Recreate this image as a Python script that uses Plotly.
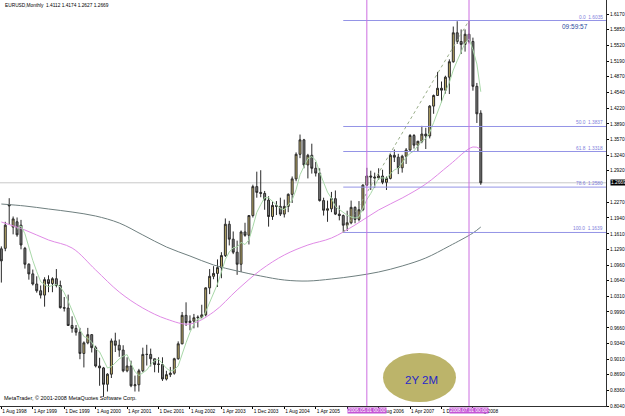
import plotly.graph_objects as go

# ---------------- data (month index 0 = Aug 1998) ----------------
opens = [1.130,1.131,1.222,1.175,1.186,1.179,1.131,1.098,1.078,1.057,1.043,1.034,
         1.066,1.058,1.068,1.054,1.008,1.007,0.971,0.965,0.957,0.913,0.935,0.952,
         0.925,0.887,0.883,0.849,0.870,0.939,0.930,0.920,0.877,0.887,0.846,0.848,
         0.877,0.911,0.911,0.902,0.890,0.890,0.860,0.869,0.872,0.902,0.933,0.992,
         0.977,0.980,0.987,0.988,0.993,1.049,1.073,1.079,1.091,1.116,1.181,1.150,
         1.123,1.098,1.165,1.158,1.199,1.259,1.247,1.245,1.231,1.197,1.220,1.218,
         1.202,1.218,1.243,1.275,1.326,1.356,1.304,1.324,1.297,1.287,1.230,1.210,
         1.213,1.234,1.202,1.199,1.179,1.184,1.216,1.191,1.211,1.262,1.281,1.279,
         1.277,1.281,1.268,1.276,1.324,1.320,1.298,1.322,1.335,1.365,1.345,1.353,
         1.368,1.364,1.426,1.448,1.463,1.459,1.486,1.518,1.578,1.560,1.554,1.575,
         1.560,1.467,1.4112]
highs = [1.135,1.186,1.235,1.197,1.195,1.190,1.134,1.100,1.087,1.073,1.054,1.071,
         1.075,1.071,1.088,1.064,1.030,1.035,0.990,0.972,0.966,0.938,0.966,0.953,
         0.929,0.904,0.885,0.872,0.944,0.956,0.942,0.930,0.905,0.898,0.867,0.881,
         0.925,0.931,0.923,0.902,0.905,0.905,0.877,0.885,0.904,0.938,0.999,1.019,
         0.992,0.995,0.992,1.014,1.050,1.088,1.094,1.108,1.123,1.193,1.188,1.166,
         1.147,1.168,1.184,1.200,1.263,1.290,1.293,1.250,1.239,1.229,1.229,1.236,
         1.232,1.245,1.280,1.330,1.367,1.358,1.327,1.348,1.310,1.297,1.236,1.230,
         1.248,1.251,1.220,1.201,1.209,1.230,1.218,1.229,1.264,1.298,1.292,1.288,
         1.297,1.294,1.280,1.327,1.336,1.327,1.325,1.339,1.368,1.368,1.354,1.385,
         1.381,1.428,1.450,1.497,1.477,1.489,1.523,1.591,1.602,1.585,1.585,1.6035,
         1.568,1.474,1.4174]
lows = [1.060,1.125,1.180,1.160,1.155,1.129,1.089,1.066,1.054,1.039,1.027,1.010,
        1.040,1.040,1.050,1.006,1.000,0.970,0.956,0.950,0.901,0.884,0.932,0.915,
        0.884,0.846,0.823,0.834,0.862,0.916,0.906,0.874,0.874,0.843,0.834,0.834,
        0.874,0.888,0.886,0.874,0.873,0.856,0.857,0.864,0.869,0.900,0.932,0.970,
        0.961,0.965,0.967,0.988,0.990,1.036,1.067,1.051,1.069,1.113,1.137,1.119,
        1.076,1.082,1.155,1.139,1.195,1.236,1.237,1.211,1.176,1.190,1.200,1.198,
        1.195,1.206,1.225,1.270,1.318,1.297,1.276,1.286,1.280,1.228,1.199,1.186,
        1.206,1.200,1.189,1.1639,1.167,1.181,1.183,1.187,1.208,1.260,1.252,1.256,
        1.273,1.264,1.252,1.274,1.310,1.285,1.288,1.306,1.333,1.338,1.331,1.349,
        1.337,1.359,1.410,1.447,1.434,1.452,1.451,1.516,1.555,1.534,1.539,1.556,
        1.458,1.391,1.2627]
closes = [1.105,1.179,1.219,1.192,1.159,1.138,1.098,1.078,1.057,1.043,1.034,1.066,
          1.058,1.068,1.054,1.008,1.007,0.971,0.965,0.957,0.913,0.935,0.952,0.925,
          0.887,0.883,0.849,0.870,0.939,0.930,0.920,0.877,0.887,0.846,0.848,0.877,
          0.911,0.911,0.902,0.890,0.891,0.860,0.869,0.872,0.902,0.933,0.992,0.977,
          0.980,0.987,0.988,0.993,1.049,1.073,1.079,1.091,1.116,1.181,1.150,1.123,
          1.098,1.165,1.158,1.199,1.259,1.247,1.245,1.231,1.197,1.220,1.218,1.202,
          1.218,1.243,1.275,1.326,1.356,1.304,1.324,1.297,1.287,1.230,1.210,1.213,
          1.234,1.202,1.199,1.179,1.184,1.216,1.191,1.211,1.262,1.281,1.279,1.277,
          1.281,1.268,1.276,1.324,1.320,1.298,1.322,1.335,1.365,1.345,1.353,1.368,
          1.364,1.426,1.448,1.463,1.459,1.486,1.518,1.578,1.560,1.554,1.575,1.560,
          1.467,1.410,1.2669]
months = list(range(len(closes)))

ma_x = [0,6,12,18,24,30,36,42,48,54,60,66,72,78,84,90,96,102,108,114,120,122]
ma_pink = [1.1856,1.1690,1.1483,1.1317,1.0861,1.0404,1.0072,0.9844,0.9741,0.9990,1.0446,
           1.0861,1.1172,1.1379,1.1524,1.1794,1.2105,1.2354,1.2644,1.3038,1.3412,1.3370]
ma_grey = [1.2229,1.2188,1.2126,1.2063,1.1980,1.1835,1.1587,1.1338,1.1151,1.0965,1.0840,
           1.0736,1.0653,1.0632,1.0674,1.0736,1.0819,1.0944,1.1110,1.1358,1.1628,1.1752]

fib_levels = [0.0, 50.0, 61.8, 78.6, 100.0]
fib_prices = [1.6035, 1.3837, 1.3318, 1.2580, 1.1639]
fib_start, fib_end = 87, 119          # Nov 2005 low -> Jul 2008 high
vlines = [93, 119]
vline_labels = ["2006.05.01 00:00", "2008.07.01 00:00"]

tick_months = list(range(0, 121, 8))
# "1 Dec 2005" sits completely under the date box in the reference, so it is left blank
tick_text = ["1 Aug 1998","1 Apr 1999","1 Dec 1999","1 Aug 2000","1 Apr 2001","1 Dec 2001",
             "1 Aug 2002","1 Apr 2003","1 Dec 2003","1 Aug 2004","1 Apr 2005","",
             "1 Aug 2006","1 Apr 2007","1 Dec 2007","1 Aug 2008"]
price_ticks = [1.6170,1.5850,1.5520,1.5190,1.4870,1.4540,1.4220,1.3890,1.3570,1.3240,
               1.2920,1.2270,1.1940,1.1610,1.1290,1.0960,1.0640,1.0310,0.9990,
               0.9660,0.9340,0.9010,0.8690,0.8360,0.8040]
last_price = 1.2669

# ---------------- layout geometry ----------------
W, H = 625, 416
PW, PH = 606, 406
X_MIN, X_MAX = -0.343, 153.86
Y_MIN, Y_MAX = 0.8040, 1.64604
FONT = "Liberation Sans"

def px(x):
    return x / PW

def py(y):
    return 1 - y / PH

fig = go.Figure()

# short SMA (green)
sma5_x, sma5_y = [], []
for i in range(4, len(closes)):
    sma5_x.append(months[i])
    sma5_y.append(sum(closes[i-4:i+1]) / 5)

fig.add_trace(go.Scatter(x=ma_x, y=ma_grey, mode="lines", line=dict(color="#6f7f7f", width=1, shape="spline"),
                         hoverinfo="skip"))
fig.add_trace(go.Scatter(x=ma_x, y=ma_pink, mode="lines", line=dict(color="#e08ae6", width=1, shape="spline"),
                         hoverinfo="skip"))
fig.add_trace(go.Scatter(x=sma5_x, y=sma5_y, mode="lines", line=dict(color="#a8d8a8", width=1),
                         hoverinfo="skip"))

fig.add_trace(go.Candlestick(
    x=months, open=opens, high=highs, low=lows, close=closes,
    increasing=dict(fillcolor="#c8b56a", line=dict(color="#2a2a2a", width=1)),
    decreasing=dict(fillcolor="#7c7c7c", line=dict(color="#2a2a2a", width=1)),
    whiskerwidth=0, hoverinfo="skip"))

shapes = []
# current price line
shapes.append(dict(type="line", xref="x", yref="y", x0=X_MIN, x1=X_MAX, y0=last_price, y1=last_price,
                   line=dict(color="#c8c8c8", width=1), layer="below"))
# fibonacci levels
for p in fib_prices:
    shapes.append(dict(type="line", xref="x", yref="y", x0=fib_start, x1=X_MAX, y0=p, y1=p,
                       line=dict(color="#9494e6", width=1)))
# fibonacci diagonal
shapes.append(dict(type="line", xref="x", yref="y", x0=fib_start, x1=fib_end,
                   y0=fib_prices[-1], y1=fib_prices[0],
                   line=dict(color="#9aae8a", width=1, dash="dot")))
# vertical lines
for v in vlines:
    shapes.append(dict(type="line", xref="x", yref="paper", x0=v, x1=v, y0=0, y1=1,
                       line=dict(color="#cc6ee0", width=1)))
# oval
shapes.append(dict(type="circle", xref="paper", yref="paper", x0=px(383), x1=px(456),
                   y0=py(402), y1=py(353), fillcolor="#bcb46a", line=dict(width=0)))

ann = []
ann.append(dict(text="EURUSD,Monthly  1.4112 1.4174 1.2627 1.2669", xref="paper", yref="paper",
                x=px(3), y=py(5.5), xanchor="left", yanchor="middle", showarrow=False,
                font=dict(family=FONT, size=4.8, color="#000000")))
ann.append(dict(text="09:59:57", xref="paper", yref="paper", x=px(560), y=py(27), xanchor="left",
                yanchor="middle", showarrow=False,
                font=dict(family=FONT, size=6.5, color="#2a4aa0")))
ann.append(dict(text="MetaTrader, © 2001-2008 MetaQuotes Software Corp.", xref="paper", yref="paper",
                x=px(2), y=py(398), xanchor="left", yanchor="middle", showarrow=False,
                font=dict(family=FONT, size=5.5, color="#000000")))
for lv, p in zip(fib_levels, fib_prices):
    ann.append(dict(text="%.1f  %.4f" % (lv, p), xref="paper", yref="y", x=px(605), y=p,
                    xanchor="right", yanchor="bottom", showarrow=False, yshift=-1,
                    font=dict(family=FONT, size=4.8, color="#8080dc")))
for v, t in zip(vlines, vline_labels):
    ann.append(dict(text=t, xref="x", yref="paper", x=v, y=py(410.5), xanchor="center",
                    yanchor="middle", showarrow=False, bgcolor="#c455d6", borderpad=0,
                    font=dict(family=FONT, size=4.8, color="#ffffff")))
ann.append(dict(text="2Y 2M", xref="paper", yref="paper", x=px(421), y=py(380), xanchor="center",
                yanchor="middle", showarrow=False,
                font=dict(family=FONT, size=11.5, color="#2727c8")))
ann.append(dict(text="1.2669", xref="paper", yref="y", x=px(610), y=last_price, xanchor="left",
                yanchor="middle", showarrow=False, bgcolor="#000000", borderpad=0,
                font=dict(family=FONT, size=4.8, color="#ffffff")))

fig.update_layout(
    width=W, height=H, autosize=False,
    margin=dict(l=0, r=W - PW, t=0, b=H - PH, autoexpand=False),
    paper_bgcolor="#ffffff", plot_bgcolor="#ffffff",
    showlegend=False, shapes=shapes, annotations=ann,
    xaxis=dict(range=[X_MIN, X_MAX], rangeslider=dict(visible=False), showgrid=False, zeroline=False,
               tickvals=tick_months, ticktext=tick_text, ticks="outside", ticklen=2, tickcolor="#000000",
               tickangle=0, automargin=False,
               ticklabelposition="outside right", showline=True, linecolor="#303030", linewidth=1,
               tickfont=dict(family=FONT, size=4.8, color="#000000")),
    yaxis=dict(range=[Y_MIN, Y_MAX], side="right", showgrid=False, zeroline=False, automargin=False,
               tickvals=price_ticks, ticktext=["%.4f" % t for t in price_ticks],
               ticks="outside", ticklen=2, tickcolor="#000000", showline=True,
               linecolor="#303030", linewidth=1,
               tickfont=dict(family=FONT, size=4.8, color="#000000")),
)

fig.write_html("out.html")
